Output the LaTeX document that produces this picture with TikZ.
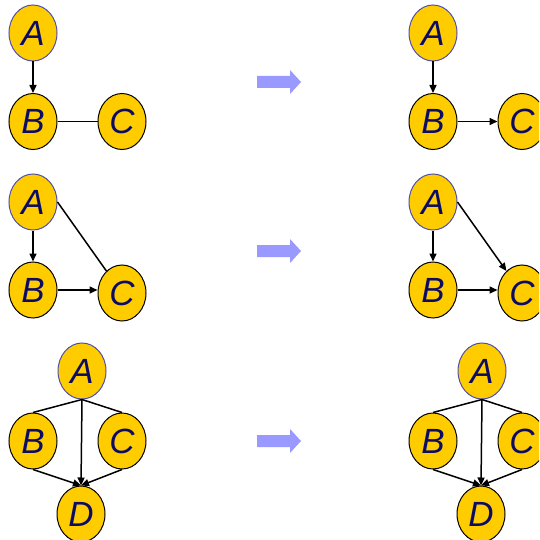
\documentclass[tikz,border=0pt]{standalone}
\usepackage{fontspec}
\setmainfont{Liberation Sans}
\usetikzlibrary{shapes.geometric,arrows.meta}
\definecolor{gold}{HTML}{FFCC00}
\definecolor{navy}{RGB}{12,12,100}
\definecolor{aedge}{RGB}{80,80,170}
\definecolor{blockblue}{HTML}{9999FF}
\tikzset{
  var/.style={ellipse, draw=black, line width=1pt, fill=gold, minimum width=48pt, minimum height=56pt, inner sep=0pt, text=navy, font=\fontsize{35}{35}\selectfont\itshape},
  rootvar/.style={var, draw=aedge},
  arr/.style={line width=1.5pt, -{Triangle[length=8pt,width=7pt]}},
  lin/.style={line width=1.5pt},
  bigarrow/.style={fill=blockblue, draw=none}
}
\begin{document}
\begin{tikzpicture}[x=1pt,y=-1pt]
\useasboundingbox (0,0) rectangle (539,540);
\clip (0,0) rectangle (539,540);
% ---------- row 1 ----------
\node[rootvar] (a1) at (33,33) {A};
\node[var] (b1) at (33,121.5) {B};
\node[var] (c1) at (122,121.5) {C};
\draw[arr] (a1) -- (b1);
\draw[lin] (b1) -- (c1);
\node[rootvar] (ra1) at (433,33) {A};
\node[var] (rb1) at (433,121.5) {B};
\node[var] (rc1) at (522,121.5) {C};
\draw[arr] (ra1) -- (rb1);
\draw[arr] (rb1) -- (rc1);
% ---------- row 2 ----------
\node[rootvar] (a2) at (33,202) {A};
\node[var] (b2) at (33,290) {B};
\node[var] (c2) at (122,293) {C};
\draw[arr] (a2) -- (b2);
\draw[arr] (b2.east) -- (b2.east -| c2.west);
\draw[lin] (a2.east) -- (c2);
\node[rootvar] (ra2) at (433,202) {A};
\node[var] (rb2) at (433,290) {B};
\node[var] (rc2) at (522,293) {C};
\draw[arr] (ra2) -- (rb2);
\draw[arr] (rb2.east) -- (rb2.east -| rc2.west);
\draw[arr] (ra2.east) -- (rc2);
% ---------- row 3 ----------
\node[rootvar] (a3) at (82,371) {A};
\node[var] (b3) at (33,441) {B};
\node[var] (c3) at (122,441) {C};
\node[var] (d3) at (81,514) {D};
\draw[lin] (a3.south) -- (b3.north);
\draw[lin] (a3.south) -- (c3.north);
\draw[arr] (a3.south) -- (d3.north);
\draw[arr] (b3.south) -- (d3.north);
\draw[arr] (c3.south) -- (d3.north);
\node[rootvar] (ra3) at (482,371) {A};
\node[var] (rb3) at (433,441) {B};
\node[var] (rc3) at (522,441) {C};
\node[var] (rd3) at (481,514) {D};
\draw[lin] (ra3.south) -- (rb3.north);
\draw[lin] (ra3.south) -- (rc3.north);
\draw[arr] (ra3.south) -- (rd3.north);
\draw[arr] (rb3.south) -- (rd3.north);
\draw[arr] (rc3.south) -- (rd3.north);
% ---------- block arrows ----------
\foreach \cy in {82,251,441} {
  \fill[bigarrow] (257,\cy-6) -- (290,\cy-6) -- (290,\cy-12) -- (301,\cy) -- (290,\cy+12) -- (290,\cy+6) -- (257,\cy+6) -- cycle;
}
\end{tikzpicture}
\end{document}
